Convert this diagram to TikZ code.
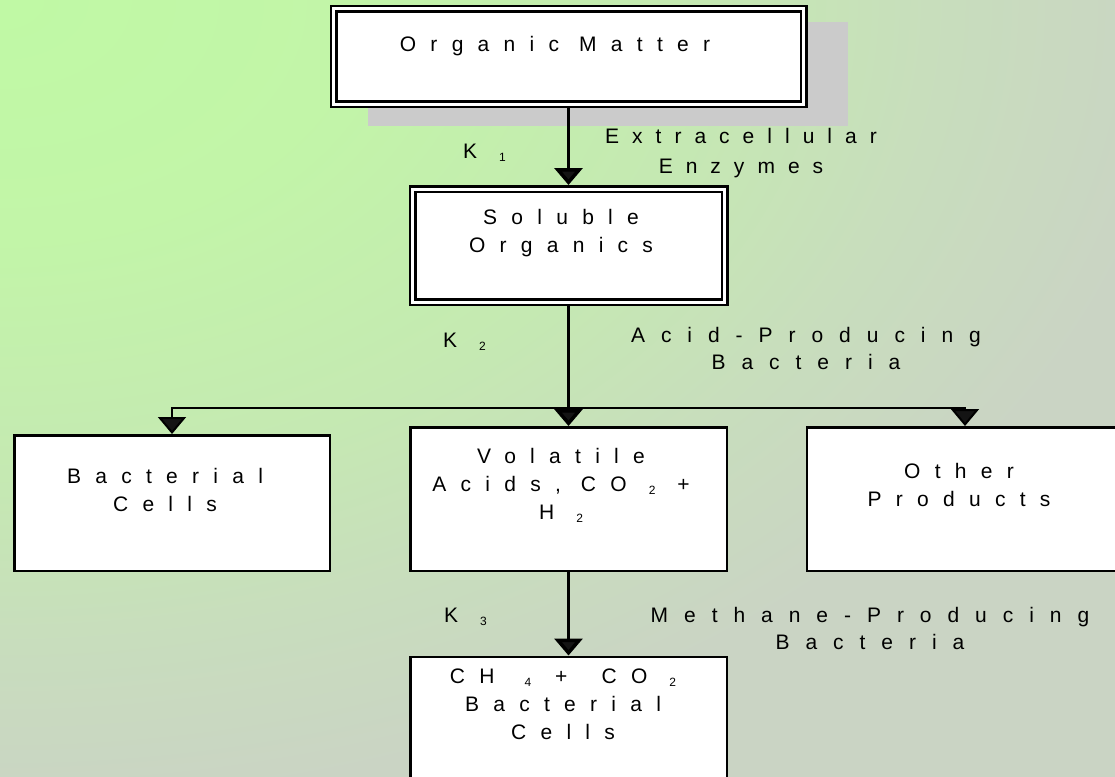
\documentclass[tikz,border=0pt]{standalone}
\usepackage{fontspec}
\setmainfont{Liberation Sans}
\newfontfamily\lsf[LetterSpace=68]{Liberation Sans}
\newfontfamily\lsfn[LetterSpace=62]{Liberation Sans}
\newfontfamily\lsfw[LetterSpace=76]{Liberation Sans}
\usetikzlibrary{arrows.meta}
\definecolor{bgA}{RGB}{192,249,165}
\definecolor{bgB}{RGB}{194,245,168}
\definecolor{bgC}{RGB}{197,233,178}
\definecolor{bgD}{RGB}{200,221,189}
\definecolor{bgE}{RGB}{202,212,196}
\definecolor{shadowgray}{RGB}{203,203,203}
\definecolor{tipblack}{RGB}{20,20,20}
\pgfdeclareradialshading{bgshade}{\pgfpoint{0bp}{0bp}}{color(0bp)=(bgA); color(4.17bp)=(bgB); color(8.33bp)=(bgC); color(11.33bp)=(bgD); color(14.17bp)=(bgE); color(50bp)=(bgE)}
\newcommand\sbx[1]{\hspace{22pt}\raisebox{-3pt}{\fontsize{12}{13}\selectfont #1}}
\newcommand\fl{\rule{0pt}{21pt}}
\tikzset{
  dbox/.style={draw=black, fill=white, line width=2.5pt, double=white, double distance=3pt, outer sep=4pt, inner sep=0pt},
  sbox/.style={draw=black, fill=white, line width=2.5pt, inner sep=0pt},
  txt/.style={font=\lsf\fontsize{21}{28}\selectfont, align=center, inner sep=0pt, anchor=north},
  lbl/.style={font=\lsf\fontsize{21}{28}\selectfont, inner sep=0pt, anchor=base west},
  flow/.style={line width=3.5pt, draw=black, -{Triangle[width=28pt,length=17pt,fill=tipblack]}},
  branch/.style={line width=2pt, draw=black, -{Triangle[width=28pt,length=17pt,fill=tipblack]}}
}
\begin{document}
\begin{tikzpicture}[x=1pt,y=-1pt]
\useasboundingbox (0,0) rectangle (1115,776);
\begin{scope}
\clip (0,0) rectangle (1115,776);
\shade[shading=bgshade] (0,0) ellipse [x radius=2100, y radius=1425];
% shadow of top box
\fill[shadowgray] (368,22) rectangle (848,126);
% boxes
\node[dbox, minimum width=470pt, minimum height=95pt] (om) at (568.5,56.5) {};
\node[dbox, minimum width=312pt, minimum height=113pt] (so) at (568.5,245.5) {};
\node[sbox, minimum width=315.5pt, minimum height=135.5pt] (bc) at (172,503) {};
\node[sbox, minimum width=316.5pt, minimum height=143.5pt] (va) at (568.5,499) {};
\node[sbox, minimum width=316.5pt, minimum height=143.5pt] (op) at (965,499) {};
\node[sbox, minimum width=316.5pt, minimum height=143.5pt] (ch) at (568.5,728.5) {};
% box texts
\node[txt] (omt) at (555,30) {\fl Organic Matter};
\node[txt] (sot) at (561,203) {\fl Soluble\\Organics};
\node[txt] (bct) at (165,462) {\fl Bacterial\\Cells};
\node[txt] (vat) at (561,442) {\fl Volatile\\Acids, CO\sbx{2}\hspace{22pt}+\\H\sbx{2}};
\node[txt] (opt) at (959,457) {\fl Other\\Products};
\node[txt] (cht) at (563,662) {\fl CH\hspace{8pt}\sbx{4}\hspace{24pt}+\hspace{14pt} CO\sbx{2}\\Bacterial\\Cells};
% side labels
\node[txt, font=\lsfn\fontsize{21}{28}\selectfont] (ext) at (741,122) {\fl Extracellular\\[2pt]Enzymes};
\node[txt, font=\lsfw\fontsize{21}{27}\selectfont] (acid) at (806,321) {\fl Acid-Producing\\Bacteria};
\node[txt, font=\lsfw\fontsize{21}{27}\selectfont] (meth) at (870,601) {\fl Methane-Producing\\Bacteria};
\node[lbl] (k1) at (463,158) {K\sbx{1}};
\node[lbl] (k2) at (443,347) {K\sbx{2}};
\node[lbl] (k3) at (444,622) {K\sbx{3}};
% connectors
\draw[flow] (om.south) -- (so.north);
\draw[flow] (so.south) -- (va.north);
\coordinate (j) at (568.5,408);
\draw[branch] (j) -| (bc.north);
\draw[branch] (j) -| (op.north);
\draw[flow] (va.south) -- (ch.north);
\end{scope}
\end{tikzpicture}
\end{document}
